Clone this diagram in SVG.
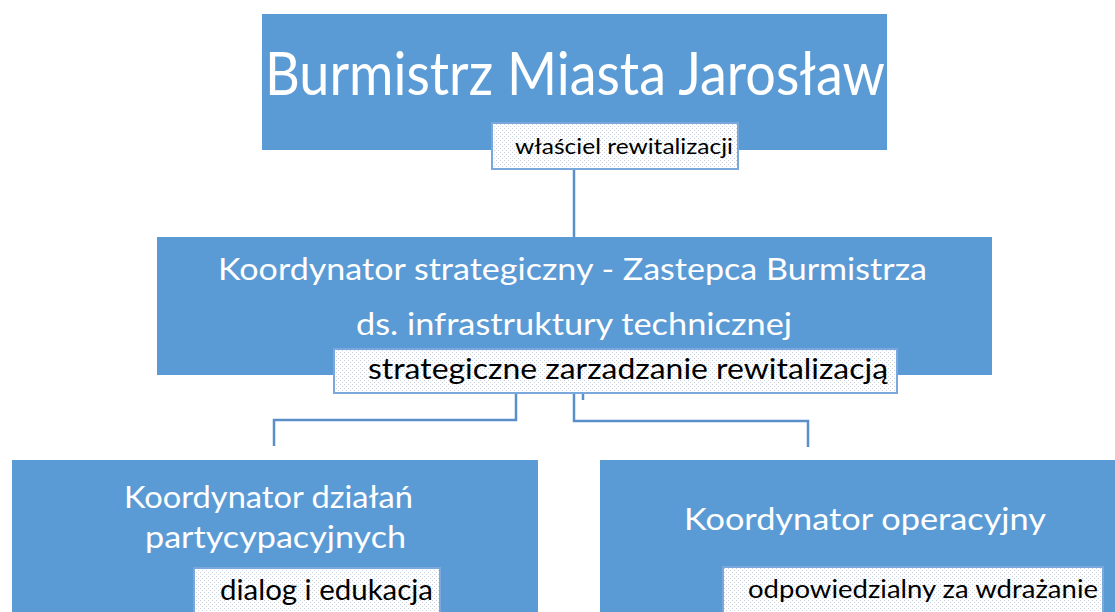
<svg xmlns="http://www.w3.org/2000/svg" width="1115" height="612" viewBox="0 0 1115 612">
<defs>
<pattern id="dots" width="4" height="4" patternUnits="userSpaceOnUse">
<rect width="4" height="4" fill="#ffffff"/>
<rect x="0" y="0" width="1" height="1" fill="#c9d3df"/>
<rect x="2" y="2" width="1" height="1" fill="#c9d3df"/>
</pattern>
</defs>
<style>
.box{fill:#5b9bd5;}
.lbl{fill:url(#dots);stroke:#7aa7dc;stroke-width:2;}
.wt{fill:#ffffff;font-family:Lato,"Open Sans",sans-serif;}
.bt{fill:#000000;font-family:Lato,"Open Sans",sans-serif;}
.con{fill:none;stroke:#5a8fca;stroke-width:2.5;}
</style>
<rect width="1115" height="612" fill="#ffffff"/>
<g id="connectors">
<path class="con" d="M574 169 V237"/>
<path class="con" d="M516 393 V420 H274 V446"/>
<path class="con" d="M574 393 V421 H808 V447"/>
<path class="con" d="M583 393 V400" stroke-width="2"/>
</g>
<g id="node-burmistrz">
<rect class="box" x="262" y="14" width="625" height="136"/>
<text class="wt" x="265" y="95" font-size="60" textLength="620" lengthAdjust="spacingAndGlyphs">Burmistrz Miasta Jarosław</text>
<rect class="lbl" x="492" y="123" width="246" height="46"/>
<text class="bt" x="515" y="154" font-size="22" textLength="218" lengthAdjust="spacingAndGlyphs">właściel rewitalizacji</text>
</g>
<g id="node-koordynator-strategiczny">
<rect class="box" x="157" y="237" width="835" height="138"/>
<text class="wt" x="218" y="280" font-size="31" textLength="709" lengthAdjust="spacingAndGlyphs">Koordynator strategiczny - Zastepca Burmistrza</text>
<text class="wt" x="356" y="335" font-size="31" textLength="436" lengthAdjust="spacingAndGlyphs">ds. infrastruktury technicznej</text>
<rect class="lbl" x="334" y="349" width="563" height="44"/>
<text class="bt" x="368" y="379" font-size="29" textLength="520" lengthAdjust="spacingAndGlyphs">strategiczne zarzadzanie rewitalizacją</text>
</g>
<g id="node-koordynator-dzialan">
<rect class="box" x="12" y="460" width="526" height="160"/>
<text class="wt" x="124" y="508" font-size="31" textLength="289" lengthAdjust="spacingAndGlyphs">Koordynator działań</text>
<text class="wt" x="145" y="548" font-size="31" textLength="261" lengthAdjust="spacingAndGlyphs">partycypacyjnych</text>
<rect class="lbl" x="194" y="568" width="246" height="50"/>
<text class="bt" x="220" y="600" font-size="29" textLength="213" lengthAdjust="spacingAndGlyphs">dialog i edukacja</text>
</g>
<g id="node-koordynator-operacyjny">
<rect class="box" x="600" y="460" width="520" height="160"/>
<text class="wt" x="684" y="530" font-size="31" textLength="362" lengthAdjust="spacingAndGlyphs">Koordynator operacyjny</text>
<rect class="lbl" x="723" y="567" width="380" height="50"/>
<text class="bt" x="748" y="598" font-size="25" textLength="350" lengthAdjust="spacingAndGlyphs">odpowiedzialny za wdrażanie</text>
</g>
</svg>
